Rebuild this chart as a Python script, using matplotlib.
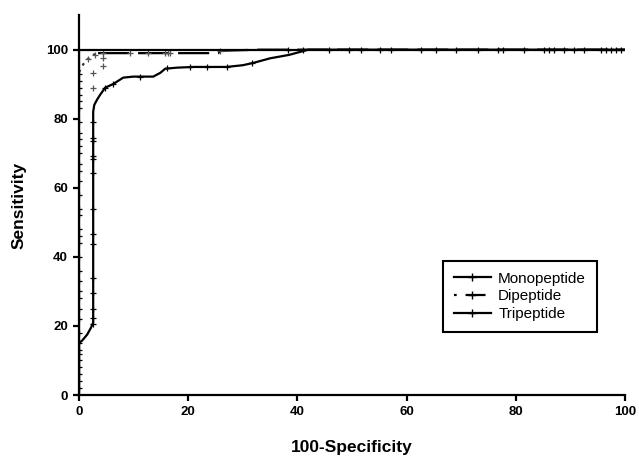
import matplotlib.pyplot as plt
from matplotlib.lines import Line2D

plt.rcParams['font.family'] = ['Liberation Sans', 'DejaVu Sans']

# Monopeptide ROC curve (lower solid curve)
mono_x = [0, 0, 0.6, 1.5, 2.2, 2.6, 2.6, 2.8, 3.3, 3.9, 4.8, 6.2, 8.1, 9.9, 13.6,
          14.9, 15.8, 18, 21, 27, 30, 32, 35, 38.5, 41.3, 42, 100]
mono_y = [0, 15, 15.8, 17.5, 19.5, 21, 82, 84, 85.5, 87, 89, 90, 91.9, 92.2, 92.2,
          93.3, 94.5, 94.8, 95, 95, 95.5, 96.2, 97.5, 98.5, 99.7, 100, 100]
mono_mx = [2.6, 2.6, 2.6, 2.6, 2.6, 2.6, 2.6, 2.6, 2.6, 2.6, 2.6, 2.6, 2.6, 2.6,
           4.8, 6.2, 11.2, 16.1, 20.4, 23.5, 27.2, 31.7]
mono_my = [20.6, 22.3, 24.9, 29.6, 33.9, 43.8, 46.7, 53.9, 64.3, 68.4, 69.3, 73.6,
           74.5, 79, 89, 90, 92.2, 94.6, 95, 95, 95, 96]

# Dipeptide ROC curve (dotted start, then dashed)
di_x = [0, 0.8, 1.7, 2.6, 3.5, 10, 20, 25.5, 26, 33, 100]
di_y = [93.5, 95.8, 97.4, 98.5, 99, 99, 99, 99, 99.7, 100, 100]
di_mx = [1.7, 2.6, 2.6, 3.0, 4.4, 4.4, 4.4, 9.4, 12.7, 15.8, 16.3, 16.7, 25.9]
di_my = [97.4, 93.3, 89, 98.5, 97.7, 95.4, 99, 99, 99, 99, 99, 99, 99.7]

# Tripeptide ROC curve (along the axes)
tri_x = [0, 0, 100]
tri_y = [0, 100, 100]
tri_my_axis = [2, 4, 6, 8, 10, 12, 13, 15, 18, 22, 25, 28, 30, 33, 36, 40, 44, 46,
               48, 52, 54, 58, 62, 65, 67, 70, 72, 74, 76, 79, 83, 85, 87, 89, 91, 93]
tri_mx_top = [38.3, 41.1, 45.7, 49.4, 51.6, 55.2, 57.1, 62.6, 65.3, 69, 73, 76.7,
              77.6, 81.5, 85.1, 86, 87, 88.8, 90.6, 92.5, 95.6, 96.5, 97.4, 98.3, 99.2]

fig = plt.figure(figsize=(6.39, 4.59), dpi=100)
ax = fig.add_axes([0.1236, 0.1394, 0.8545, 0.8276])

mk = dict(marker='+', linestyle='none', color='black', markersize=5, markeredgewidth=0.9)
ax.plot(mono_x, mono_y, color='black', lw=1.6, solid_joinstyle='round')
ax.plot(mono_mx, mono_my, **mk)
ax.plot(di_x[:5], di_y[:5], color='#333333', lw=1.6, dashes=(1.2, 2.2))
ax.plot(di_x[4:], di_y[4:], color='black', lw=1.6, dashes=(14, 4))
ax.plot(di_mx, di_my, **dict(mk, color='#555555'))
ax.plot(tri_x, tri_y, color='black', lw=1.6)
ax.plot([0] * len(tri_my_axis), tri_my_axis, **mk)
ax.plot(tri_mx_top, [100] * len(tri_mx_top), **mk)

ax.set_xlim(0, 100)
ax.set_ylim(0, 110)
ax.set_xticks(range(0, 101, 20))
ax.set_yticks(range(0, 101, 20))
for s in ['top', 'right']:
    ax.spines[s].set_visible(False)
for s in ['left', 'bottom']:
    ax.spines[s].set_linewidth(1.6)
ax.tick_params(direction='out', length=4, width=1.6, labelsize=9.5, pad=4)
for lab in ax.get_xticklabels() + ax.get_yticklabels():
    lab.set_fontweight('bold')
ax.set_xlabel('100-Specificity', fontsize=12.5, fontweight='bold', labelpad=16)
ax.set_ylabel('Sensitivity', fontsize=12.5, fontweight='bold', labelpad=14)

handles = [
    Line2D([], [], color='black', lw=1.6, marker='+', markersize=6, markeredgewidth=1),
    Line2D([], [], color='black', lw=1.6, dashes=(1.2, 4, 9, 3), marker='+',
           markersize=6, markeredgewidth=1),
    Line2D([], [], color='black', lw=1.6, marker='+', markersize=6, markeredgewidth=1),
]
leg = ax.legend(handles, ['Monopeptide', 'Dipeptide', 'Tripeptide'],
                loc='upper left', bbox_to_anchor=(0.667, 0.353), fontsize=11,
                fancybox=False, framealpha=1, edgecolor='black',
                handlelength=2.4, labelspacing=0.25, borderpad=0.7, handletextpad=0.5,
                borderaxespad=0)
leg.get_frame().set_linewidth(1.5)

fig.savefig('out.png', dpi=100)
